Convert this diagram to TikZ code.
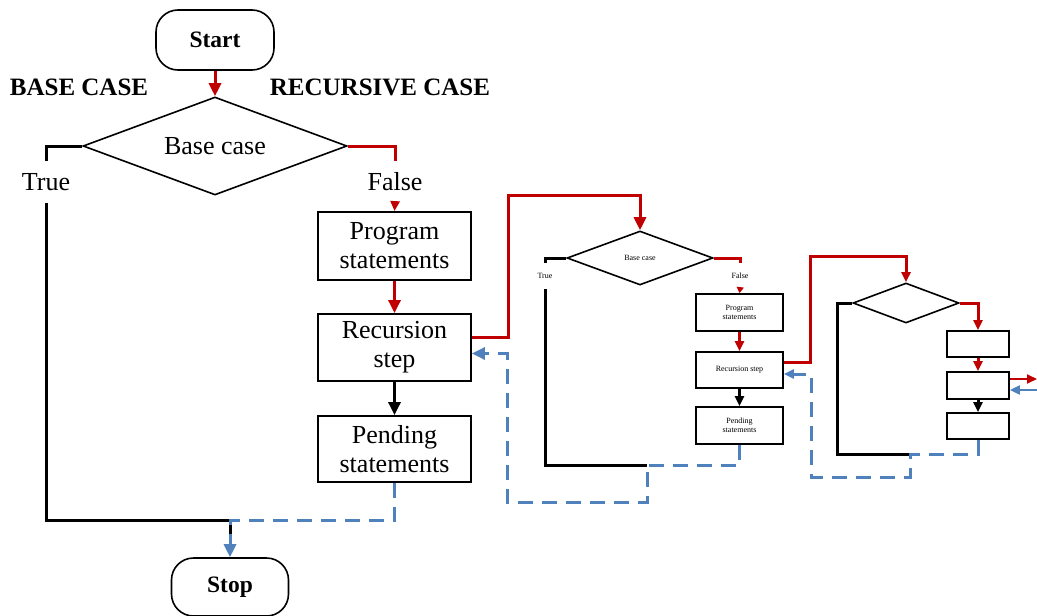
\documentclass[tikz,border=0pt]{standalone}
\usepackage{fontspec}
\setmainfont{Liberation Serif}
\usetikzlibrary{shapes.geometric,arrows.meta}
\definecolor{flowred}{RGB}{192,0,0}
\definecolor{flowblue}{RGB}{79,129,189}

\begin{document}
\begin{tikzpicture}[x=1pt,y=-1pt,
  bigtext/.style={font=\fontsize{26}{29}\selectfont},
  smalltext/.style={font=\fontsize{8}{9}\selectfont},
  terminal/.style={draw, line width=1.6pt, rounded corners=22pt, minimum width=118pt,
    minimum height=60pt, inner sep=0pt, font=\fontsize{23.5}{26}\selectfont\bfseries},
  decision/.style={draw, diamond, aspect=2.7, line width=1.6pt, inner sep=0pt},
  stepbox/.style={draw, rectangle, inner sep=0pt, align=center, line width=1.8pt},
  tag/.style={inner sep=0pt, align=center},
  headline/.style={inner sep=0pt, font=\fontsize{25}{28}\selectfont\bfseries},
  redline/.style={draw=flowred, line width=3pt},
  blkline/.style={draw=black, line width=3pt},
  blueline/.style={draw=flowblue, line width=3pt, dash pattern=on 15pt off 9pt},
  arr/.style={-{Triangle[width=12pt,length=13pt]}},
  sarr/.style={-{Triangle[width=9pt,length=10pt]}}
]
\useasboundingbox (0,0) rectangle (1037,616);

% ---------- outer call ----------
\node[terminal] (start) at (215,40) {Start};
\node[headline] (bcase) at (79,87) {BASE CASE};
\node[headline] (rcase) at (380,87) {RECURSIVE CASE};
\node[decision, minimum width=264pt, minimum height=98pt, bigtext] (d1) at (215,146) {Base case};
\node[tag, bigtext, minimum height=41pt] (t1) at (46,182) {True};
\node[tag, bigtext, minimum height=41pt] (f1) at (395,182) {False};
\node[stepbox, bigtext, minimum width=153pt, minimum height=68pt] (p1) at (394.5,246) {Program\\statements};
\node[stepbox, bigtext, minimum width=153pt, minimum height=67pt] (r1) at (394.5,347.5) {Recursion\\step};
\node[stepbox, bigtext, minimum width=153pt, minimum height=66pt] (q1) at (394.5,449) {Pending\\statements};
\node[terminal, minimum width=117pt, minimum height=58pt] (stop) at (230,587) {Stop};

\coordinate (j1) at (230,520);
\coordinate (j1b) at (230,545);
\coordinate (k1) at (508,195);

\draw[redline, arr] (start.south) -- (d1.north);
\draw[blkline] (d1.west) -| (t1.north);
\draw[blkline] (t1.south) |- (j1) -- (j1b);
\draw[redline] (d1.east) -| (f1.north);
\draw[redline, sarr] (f1.south) -- (p1.north);
\draw[redline, arr] (p1.south) -- (r1.north);
\draw[blkline, arr] (r1.south) -- (q1.north);
\draw[blueline, arr] (q1.south) |- (j1) -- (stop.north);

% ---------- first nested call ----------
\node[decision, minimum width=146pt, minimum height=54pt, smalltext] (d2) at (640,258) {Base case};
\node[tag, smalltext, minimum height=26pt] (t2) at (545,276) {True};
\node[tag, smalltext, minimum height=26pt] (f2) at (740,276) {False};
\node[stepbox, smalltext, minimum width=87pt, minimum height=37pt] (p2) at (739.5,312.5) {Program\\statements};
\node[stepbox, smalltext, minimum width=87pt, minimum height=36pt] (r2) at (739.5,370) {Recursion step};
\node[stepbox, smalltext, minimum width=87pt, minimum height=37pt] (q2) at (739.5,425.5) {Pending\\statements};

\coordinate (j2) at (647,465);
\coordinate (m2) at (507,502);
\coordinate (k2) at (810,256);

\draw[redline, arr] ([yshift=10pt]r1.east) -| (k1) -| (d2.north);
\draw[blkline] (d2.west) -| (t2.north);
\draw[blkline] (t2.south) |- (j2);
\draw[redline] (d2.east) -| (f2.north);
\draw[redline, -{Triangle[width=7pt,length=6pt]}] (f2.south) -- (p2.north);
\draw[redline, sarr] (p2.south) -- (r2.north);
\draw[blkline, sarr] (r2.south) -- (q2.north);
\draw[blueline, arr] (q2.south) |- (j2) |- (m2) |- ([yshift=-6pt]r1.east);

% ---------- second nested call ----------
\node[decision, minimum width=106pt, minimum height=40pt] (d3) at (906,303) {};
\node[stepbox, minimum width=62pt, minimum height=26pt] (a3) at (978,344) {};
\node[stepbox, minimum width=62pt, minimum height=27pt] (b3) at (978,385.5) {};
\node[stepbox, minimum width=62pt, minimum height=26pt] (e3) at (978,426) {};

\coordinate (c3) at (837,454);
\coordinate (j3) at (910,454);
\coordinate (m3) at (811,477);
\coordinate (o1) at (1037,379);
\coordinate (o2) at (1037,390);

\draw[redline, sarr] ([yshift=8pt]r2.east) -| (k2) -| (d3.north);
\draw[blkline] (d3.west) -| (c3) -- (j3);
\draw[redline, sarr] (d3.east) -| (a3.north);
\draw[redline, sarr] (a3.south) -- (b3.north);
\draw[blkline, sarr] (b3.south) -- (e3.north);
\draw[blueline, sarr] (e3.south) |- (j3) |- (m3) |- ([yshift=-4pt]r2.east);
\draw[draw=flowred, line width=2pt, sarr] ([yshift=6.5pt]b3.east) -- (o1);
\draw[draw=flowblue, line width=2pt, sarr] (o2) -- ([yshift=-4.5pt]b3.east);
\end{tikzpicture}
\end{document}
